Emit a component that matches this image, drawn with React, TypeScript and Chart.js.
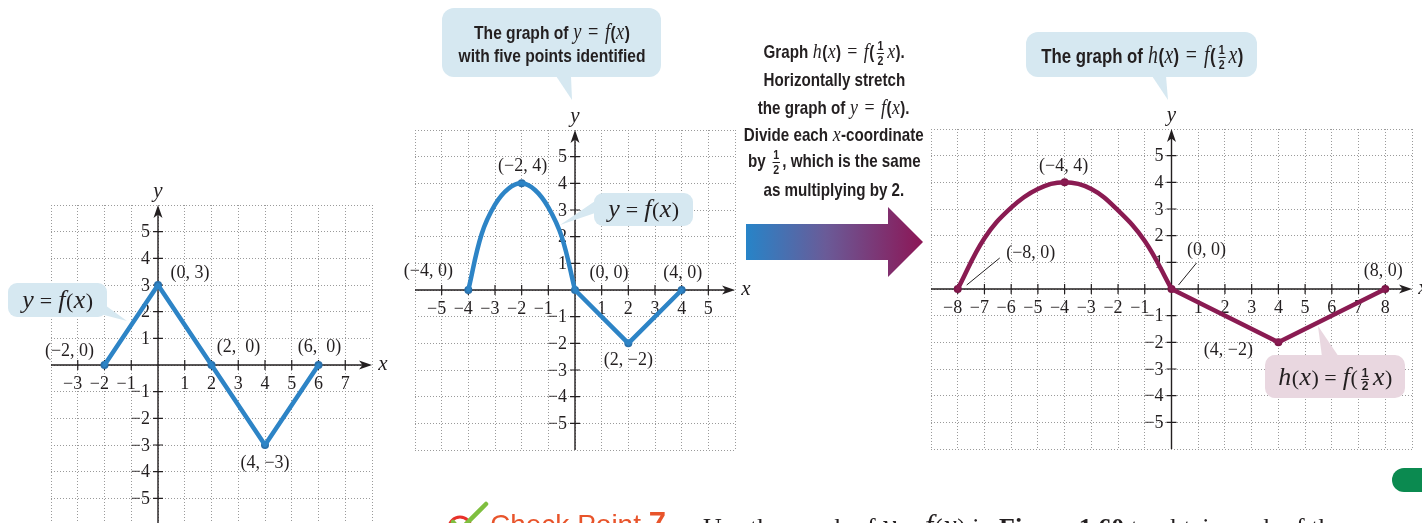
import React, { useEffect, useRef } from "react";
import { Chart, registerables } from "chart.js";
Chart.register(...registerables);

// ---------------- DATA ----------------
// Graph 1: y = f(x) (piecewise linear)
const g1X = [-2, 0, 2, 4, 6];
const g1Y = [0, 3, 0, -3, 0];
const g1PointLabels = ["(−2, 0)", "(0, 3)", "(2,  0)", "(4, −3)", "(6,  0)"];
const g1XTicks = [-3, -2, -1, 1, 2, 3, 4, 5, 6, 7];
const g1YTicks = [-5, -4, -3, -2, -1, 1, 2, 3, 4, 5];

// Graph 2: y = f(x) with five points identified
const g2CurveX = [-4, -3.5, -3, -2.5, -2, -1.5, -1, -0.5, 0];
const g2CurveY = [0, 2.1, 3.2, 3.8, 4, 3.75, 3.1, 2.0, 0];
const g2LineX = [0, 2, 4];
const g2LineY = [0, -2, 0];
const g2PointX = [-4, -2, 0, 2, 4];
const g2PointY = [0, 4, 0, -2, 0];
const g2PointLabels = ["(−4, 0)", "(−2, 4)", "(0, 0)", "(2, −2)", "(4, 0)"];
const g2XTicks = [-5, -4, -3, -2, -1, 1, 2, 3, 4, 5];
const g2YTicks = [-5, -4, -3, -2, -1, 1, 2, 3, 4, 5];

// Graph 3: h(x) = f(x/2)
const g3CurveX = [-8, -7, -6, -5, -4, -3, -2, -1, 0];
const g3CurveY = [0, 1.9, 3.05, 3.75, 4, 3.75, 2.95, 1.8, 0];
const g3LineX = [0, 4, 8];
const g3LineY = [0, -2, 0];
const g3PointX = [-8, -4, 0, 4, 8];
const g3PointY = [0, 4, 0, -2, 0];
const g3PointLabels = ["(−8, 0)", "(−4, 4)", "(0, 0)", "(4, −2)", "(8, 0)"];
const g3XTicks = [-8, -7, -6, -5, -4, -3, -2, -1, 1, 2, 3, 4, 5, 6, 7, 8];
const g3YTicks = [-5, -4, -3, -2, -1, 1, 2, 3, 4, 5];

// ---------------- STYLE ----------------
const INK = "#231f20";
const BLUE = "#2d84c6";
const BLUE_DOT = "#2a70aa";
const MAROON = "#8a1b52";
const MAROON_DOT = "#7a1646";
const SERIF = '"Liberation Serif", "Times New Roman", serif';
const HAND = '"Liberation Sans", Arial, sans-serif';
const CALLOUT_BLUE = "#d6e8f1";
const CALLOUT_PINK = "#e9d7e0";

type Seg = { x: number[]; y: number[]; smooth: boolean };
type Spec = {
  left: number; top: number; width: number; height: number;
  pad: { left: number; right: number; top: number; bottom: number };
  xMin: number; xMax: number; yMin: number; yMax: number;
  color: string; dot: string;
  segs: Seg[];
  px: number[]; py: number[]; labels: string[];
  offsets: [number, number][];
  leaders?: (null | [number, number, number, number])[];
  xTicks: number[]; yTicks: number[];
};

const fmt = (v: number) => (v < 0 ? "−" + Math.abs(v) : String(v));

function arrowHead(ctx: CanvasRenderingContext2D, tx: number, ty: number, ang: number) {
  ctx.save();
  ctx.translate(tx, ty);
  ctx.rotate(ang);
  ctx.beginPath();
  ctx.moveTo(0, 0);
  ctx.lineTo(-13, -4.5);
  ctx.lineTo(-9.5, 0);
  ctx.lineTo(-13, 4.5);
  ctx.closePath();
  ctx.fill();
  ctx.restore();
}

function mathAxes(spec: Spec) {
  return {
    id: "mathAxes",
    beforeDatasetsDraw(chart: any) {
      const { ctx, chartArea: a, scales } = chart;
      const xs = scales.x, ys = scales.y;
      const x0 = xs.getPixelForValue(0), y0 = ys.getPixelForValue(0);
      ctx.save();
      ctx.strokeStyle = INK;
      ctx.fillStyle = INK;
      ctx.lineWidth = 1.4;
      ctx.beginPath();
      ctx.moveTo(a.left, y0);
      ctx.lineTo(a.right - 6, y0);
      ctx.moveTo(x0, a.bottom);
      ctx.lineTo(x0, a.top + 6);
      ctx.stroke();
      arrowHead(ctx, a.right, y0, 0);
      arrowHead(ctx, x0, a.top, -Math.PI / 2);
      ctx.lineWidth = 1.2;
      ctx.beginPath();
      for (const v of spec.xTicks) {
        const p = xs.getPixelForValue(v);
        ctx.moveTo(p, y0 - 5);
        ctx.lineTo(p, y0 + 5);
      }
      for (const v of spec.yTicks) {
        const p = ys.getPixelForValue(v);
        ctx.moveTo(x0 - 5, p);
        ctx.lineTo(x0 + 5, p);
      }
      ctx.stroke();
      ctx.font = `18px ${SERIF}`;
      ctx.textBaseline = "middle";
      ctx.textAlign = "right";
      for (const v of spec.xTicks) {
        const p = xs.getPixelForValue(v);
        const dw = ctx.measureText(String(Math.abs(v))).width;
        ctx.fillText(fmt(v), p + dw / 2, y0 + 19);
      }
      for (const v of spec.yTicks) {
        const p = ys.getPixelForValue(v);
        ctx.fillText(fmt(v), x0 - 8, p + 1);
      }
      ctx.font = `italic 21px ${SERIF}`;
      ctx.textAlign = "center";
      ctx.fillText("x", a.right + 11, y0 - 1);
      ctx.fillText("y", x0, a.top - 14);
      ctx.restore();
    },
    afterDatasetsDraw(chart: any) {
      const { ctx, scales } = chart;
      const xs = scales.x, ys = scales.y;
      ctx.save();
      ctx.fillStyle = INK;
      ctx.strokeStyle = INK;
      ctx.font = `18px ${SERIF}`;
      ctx.textAlign = "center";
      ctx.textBaseline = "middle";
      spec.labels.forEach((lab, i) => {
        const px = xs.getPixelForValue(spec.px[i]);
        const py = ys.getPixelForValue(spec.py[i]);
        const [dx, dy] = spec.offsets[i];
        ctx.fillText(lab, px + dx, py + dy);
        const ld = spec.leaders ? spec.leaders[i] : null;
        if (ld) {
          ctx.lineWidth = 1;
          ctx.beginPath();
          ctx.moveTo(px + ld[0], py + ld[1]);
          ctx.lineTo(px + ld[2], py + ld[3]);
          ctx.stroke();
        }
      });
      ctx.restore();
    },
  };
}

function buildConfig(spec: Spec): any {
  const datasets: any[] = spec.segs.map((s) => ({
    data: s.x.map((v, i) => ({ x: v, y: s.y[i] })),
    showLine: true,
    borderColor: spec.color,
    borderWidth: 4.5,
    pointRadius: 0,
    tension: s.smooth ? 0.4 : 0,
    borderCapStyle: "round",
    borderJoinStyle: "round",
    fill: false,
  }));
  datasets.push({
    data: spec.px.map((v, i) => ({ x: v, y: spec.py[i] })),
    showLine: false,
    pointRadius: 4,
    pointBackgroundColor: spec.dot,
    pointBorderColor: spec.dot,
    pointBorderWidth: 0,
  });
  const gridAxis = (min: number, max: number) => ({
    type: "linear",
    min,
    max,
    ticks: { display: false, stepSize: 1 },
    grid: { color: "#9a9a9a", lineWidth: 1, drawTicks: false },
    border: { display: false, dash: [1, 2] },
  });
  return {
    type: "scatter",
    data: { datasets },
    options: {
      animation: false,
      responsive: false,
      maintainAspectRatio: false,
      devicePixelRatio: 1,
      events: [],
      layout: { padding: spec.pad },
      plugins: { legend: { display: false }, tooltip: { enabled: false } },
      scales: { x: gridAxis(spec.xMin, spec.xMax), y: gridAxis(spec.yMin, spec.yMax) },
    },
    plugins: [mathAxes(spec)],
  };
}

const spec1: Spec = {
  left: 0, top: 170, width: 400, height: 370,
  pad: { left: 51, right: 28, top: 35, bottom: 15 },
  xMin: -4, xMax: 8, yMin: -6, yMax: 6,
  color: BLUE, dot: BLUE_DOT,
  segs: [{ x: g1X, y: g1Y, smooth: false }],
  px: g1X, py: g1Y, labels: g1PointLabels,
  offsets: [[-35, -14], [32, -12], [27, -18], [0, 18], [1, -18]],
  xTicks: g1XTicks, yTicks: g1YTicks,
};

const spec2: Spec = {
  left: 395, top: 95, width: 360, height: 370,
  pad: { left: 20, right: 20, top: 35, bottom: 15 },
  xMin: -6, xMax: 6, yMin: -6, yMax: 6,
  color: BLUE, dot: BLUE_DOT,
  segs: [{ x: g2CurveX, y: g2CurveY, smooth: true }, { x: g2LineX, y: g2LineY, smooth: false }],
  px: g2PointX, py: g2PointY, labels: g2PointLabels,
  offsets: [[-40, -19], [1, -17], [34, -17], [0, 17], [1, -17]],
  xTicks: g2XTicks, yTicks: g2YTicks,
};

const spec3: Spec = {
  left: 905, top: 95, width: 517, height: 370,
  pad: { left: 26, right: 10, top: 34, bottom: 16 },
  xMin: -9, xMax: 9, yMin: -6, yMax: 6,
  color: MAROON, dot: MAROON_DOT,
  segs: [{ x: g3CurveX, y: g3CurveY, smooth: true }, { x: g3LineX, y: g3LineY, smooth: false }],
  px: g3PointX, py: g3PointY, labels: g3PointLabels,
  offsets: [[73, -36], [-1, -16], [35, -39], [-50, 8], [-2, -18]],
  leaders: [[9, -4, 42, -31], null, [7, -4, 25, -26], null, null],
  xTicks: g3XTicks, yTicks: g3YTicks,
};

function Graph({ spec }: { spec: Spec }) {
  const ref = useRef<HTMLCanvasElement>(null);
  useEffect(() => {
    const chart = new Chart(ref.current as HTMLCanvasElement, buildConfig(spec));
    return () => chart.destroy();
  }, []);
  return (
    <canvas
      ref={ref}
      width={spec.width}
      height={spec.height}
      style={{ position: "absolute", left: spec.left, top: spec.top, width: spec.width, height: spec.height }}
    />
  );
}

const I = ({ children }: { children: React.ReactNode }) => (
  <span style={{ fontFamily: SERIF, fontStyle: "italic", fontWeight: "normal", fontSize: "1.18em", margin: "0 0.5px" }}>
    {children}
  </span>
);
const Eq = () => (
  <span style={{ fontFamily: SERIF, fontWeight: "normal", fontSize: "1.18em", margin: "0 2px" }}> = </span>
);
const Frac = ({ size }: { size: number }) => (
  <span
    style={{
      display: "inline-flex",
      flexDirection: "column",
      alignItems: "center",
      verticalAlign: "middle",
      fontSize: size,
      lineHeight: 1,
      margin: "0 3px",
      fontFamily: HAND,
      fontWeight: "bold",
      fontStyle: "normal",
    }}
  >
    <span style={{ borderBottom: `1.4px solid ${INK}`, padding: "0 1px", lineHeight: 1.05 }}>1</span>
    <span style={{ lineHeight: 1.05 }}>2</span>
  </span>
);

const centered = (cx: number, t: number, extra: React.CSSProperties = {}): React.CSSProperties => ({
  position: "absolute",
  left: cx - 200,
  top: t,
  width: 400,
  textAlign: "center",
  whiteSpace: "nowrap",
  color: INK,
  ...extra,
});

// condensed bold "hand lettering" line
const Hand = ({ children, k }: { children: React.ReactNode; k: number }) => (
  <span style={{ display: "inline-block", transform: `scaleX(${k})`, transformOrigin: "50% 50%" }}>{children}</span>
);

export default function App() {
  const hand: React.CSSProperties = { fontFamily: HAND, fontWeight: "bold", fontSize: 19 };
  const K = 0.82;
  return (
    <div
      style={{
        position: "fixed",
        left: 0,
        top: 0,
        width: 1422,
        height: 523,
        overflow: "hidden",
        background: "#ffffff",
      }}
    >
      <Graph spec={spec1} />
      <Graph spec={spec2} />
      <Graph spec={spec3} />

      <svg width={1422} height={523} style={{ position: "absolute", left: 0, top: 0 }}>
        <defs>
          <linearGradient id="arrowGrad" x1="0" y1="0" x2="1" y2="0">
            <stop offset="0" stopColor="#2784c8" />
            <stop offset="0.45" stopColor="#6a5b98" />
            <stop offset="1" stopColor="#8c1656" />
          </linearGradient>
        </defs>
        {/* callout 1 */}
        <rect x={8} y={283} width={99} height={34} rx={9} fill={CALLOUT_BLUE} />
        <polygon points="98,300 104,315 127,321" fill={CALLOUT_BLUE} />
        {/* callout 2 */}
        <rect x={442} y={8} width={219} height={69} rx={12} fill={CALLOUT_BLUE} />
        <polygon points="556,76 571,76 572,100" fill={CALLOUT_BLUE} />
        {/* callout 3 */}
        <rect x={594} y={193} width={99} height={33} rx={9} fill={CALLOUT_BLUE} />
        <polygon points="598,199 598,212 560,225" fill={CALLOUT_BLUE} />
        {/* callout 4 */}
        <rect x={1026} y={32} width={231} height={45} rx={12} fill={CALLOUT_BLUE} />
        <polygon points="1152,76 1166,76 1168,100" fill={CALLOUT_BLUE} />
        {/* callout 5 */}
        <rect x={1265} y={355} width={140} height={43} rx={10} fill={CALLOUT_PINK} />
        <polygon points="1322,357 1339,357 1318,326" fill={CALLOUT_PINK} />
        {/* big arrow */}
        <polygon points="746,224 888,224 888,207 923,242 888,277 888,260 746,260" fill="url(#arrowGrad)" />
        {/* green pill */}
        <rect x={1392} y={468} width={44} height={24} rx={12} fill="#0b8a50" />
        {/* check icon */}
        <circle cx={460} cy={528} r={11} fill="none" stroke="#e8302a" strokeWidth={3} />
        <path d="M453 522 L460 530 L486 504" fill="none" stroke="#7fbf3f" strokeWidth={4.5} strokeLinecap="round" />
      </svg>

      {/* callout texts */}
      <div style={centered(57.5, 285, { fontFamily: SERIF, fontSize: 22, lineHeight: "30px" })}>
        <I>y</I> = <I>f</I>(<I>x</I>)
      </div>
      <div style={centered(551.5, 20, { ...hand, lineHeight: "23px" })}>
        <Hand k={K}>
          The graph of <I>y</I>
          <Eq />
          <I>f</I>(<I>x</I>)
        </Hand>
        <br />
        <Hand k={K}>with five points identified</Hand>
      </div>
      <div style={centered(643.5, 194, { fontFamily: SERIF, fontSize: 22, lineHeight: "30px" })}>
        <I>y</I> = <I>f</I>(<I>x</I>)
      </div>
      <div style={centered(1142, 40, { ...hand, fontSize: 20.5, lineHeight: "30px" })}>
        <Hand k={K}>
          The graph of <I>h</I>(<I>x</I>)
          <Eq />
          <I>f</I>(<Frac size={13} />
          <I>x</I>)
        </Hand>
      </div>
      <div style={centered(1335, 360, { fontFamily: SERIF, fontSize: 22, lineHeight: "34px" })}>
        <I>h</I>(<I>x</I>) = <I>f</I>(<Frac size={12} />
        <I>x</I>)
      </div>

      {/* middle explanation */}
      <div style={centered(834, 38, { ...hand, fontSize: 18.5, lineHeight: "26.4px" })}>
        <Hand k={K}>
          Graph <I>h</I>(<I>x</I>)
          <Eq />
          <I>f</I>(<Frac size={13} />
          <I>x</I>).
        </Hand>
        <br />
        <Hand k={K}>Horizontally stretch</Hand>
        <br />
        <Hand k={K}>
          the graph of <I>y</I>
          <Eq />
          <I>f</I>(<I>x</I>).
        </Hand>
        <br />
        <Hand k={K}>
          Divide each <I>x</I>-coordinate
        </Hand>
        <br />
        <Hand k={K}>
          by <Frac size={13} />, which is the same
        </Hand>
        <br />
        <Hand k={K}>as multiplying by 2.</Hand>
      </div>

      {/* Check Point line (cut by bottom edge) */}
      <div
        style={{
          position: "absolute",
          left: 490,
          top: 510,
          fontFamily: '"Liberation Sans", "Open Sans", sans-serif',
          fontSize: 28,
          lineHeight: "28px",
          color: "#e8542b",
          whiteSpace: "nowrap",
        }}
      >
        Check Point <span style={{ fontWeight: "bold", fontSize: 31 }}>7</span>
      </div>
      <div
        style={{
          position: "absolute",
          left: 703,
          top: 513,
          fontFamily: SERIF,
          fontSize: 26,
          lineHeight: "26px",
          color: INK,
          whiteSpace: "nowrap",
        }}
      >
        Use the graph of <I>y</I> = <I>f</I>(<I>x</I>) in <b>Figure 1.60</b> to obtain each of the
      </div>
    </div>
  );
}
